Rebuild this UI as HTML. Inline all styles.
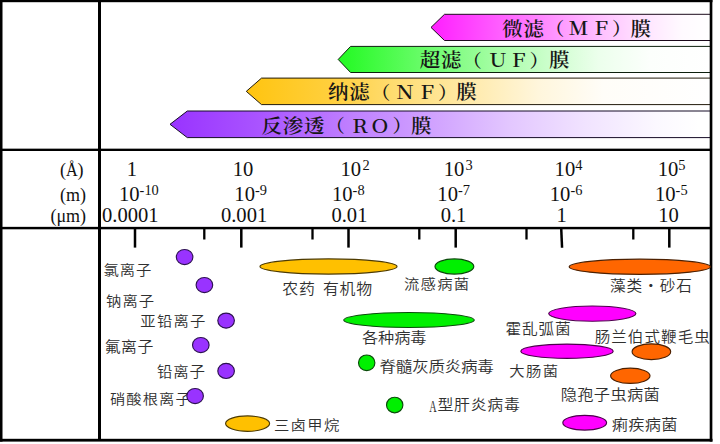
<!DOCTYPE html>
<html lang="zh-CN">
<head>
<meta charset="utf-8">
<title>膜分离过滤精度范围</title>
<style>
html,body{margin:0;padding:0;background:#fff;}
body{width:720px;height:444px;overflow:hidden;position:relative;}
svg{display:block;position:absolute;left:0;top:0;}
.mem{font-family:"Liberation Serif","Noto Serif CJK SC",serif;font-weight:600;font-size:19.5px;fill:#161616;}
.mem .l{font-size:18.4px;font-weight:600;}
.sc{font-family:"Liberation Serif","Noto Serif CJK SC",serif;font-size:20px;fill:#111;}
.sc .sup{font-size:14px;}
.lb{font-family:"Liberation Sans","Noto Sans CJK SC",sans-serif;font-size:15px;font-weight:350;fill:#303030;}
</style>
</head>
<body>
<svg width="720" height="444" viewBox="0 0 720 444">
<defs>
<linearGradient id="gMF" x1="431" x2="710" y1="0" y2="0" gradientUnits="userSpaceOnUse"><stop offset="0" stop-color="#ff1eff"/><stop offset="0.25" stop-color="#ff5fff"/><stop offset="0.45" stop-color="#ff96ff"/><stop offset="0.6" stop-color="#ffbeff"/><stop offset="0.75" stop-color="#ffe1ff"/><stop offset="0.9" stop-color="#fffaff"/><stop offset="1" stop-color="#ffffff"/></linearGradient>
<linearGradient id="gUF" x1="338" x2="710" y1="0" y2="0" gradientUnits="userSpaceOnUse"><stop offset="0" stop-color="#22fa22"/><stop offset="0.2" stop-color="#60fc60"/><stop offset="0.42" stop-color="#a4fda4"/><stop offset="0.56" stop-color="#cafeca"/><stop offset="0.7" stop-color="#ecffec"/><stop offset="0.84" stop-color="#fcfffc"/><stop offset="1" stop-color="#ffffff"/></linearGradient>
<linearGradient id="gNF" x1="246" x2="710" y1="0" y2="0" gradientUnits="userSpaceOnUse"><stop offset="0" stop-color="#ffc40f"/><stop offset="0.18" stop-color="#ffcf3c"/><stop offset="0.34" stop-color="#ffde78"/><stop offset="0.48" stop-color="#ffeaaa"/><stop offset="0.63" stop-color="#fff6dc"/><stop offset="0.77" stop-color="#fffdf8"/><stop offset="1" stop-color="#ffffff"/></linearGradient>
<linearGradient id="gRO" x1="170" x2="710" y1="0" y2="0" gradientUnits="userSpaceOnUse"><stop offset="0" stop-color="#9933ff"/><stop offset="0.16" stop-color="#a953ff"/><stop offset="0.35" stop-color="#c183ff"/><stop offset="0.49" stop-color="#d1a3ff"/><stop offset="0.63" stop-color="#e3c7ff"/><stop offset="0.77" stop-color="#f1e3ff"/><stop offset="0.9" stop-color="#fbf8ff"/><stop offset="0.98" stop-color="#ffffff"/><stop offset="1" stop-color="#ffffff"/></linearGradient>
</defs>
<rect x="0" y="0" width="720" height="444" fill="#fff"/>

<g stroke-width="1" stroke-linejoin="miter">
<polygon points="431,27.4 444.5,14.3 711,14.3 711,40.5 444.5,40.5" fill="url(#gMF)" stroke="#1c0a1c"/>
<polygon points="338.2,59.45 350.6,46.4 711,46.4 711,72.5 350.6,72.5" fill="url(#gUF)" stroke="#0c1f0c"/>
<polygon points="246.3,91.35 261.5,78.1 711,78.1 711,104.6 261.5,104.6" fill="url(#gNF)" stroke="#221a0a"/>
<polygon points="170,124.3 187.3,111 711,111 711,137.6 187.3,137.6" fill="url(#gRO)" stroke="#150a26"/>
</g>
<text class="mem" transform="scale(1.05,1)"><tspan x="478.38 498.57" y="35.7">微滤</tspan><tspan class="l" x="519.14" y="35.4">（</tspan><tspan class="l" text-anchor="middle" x="550.81" y="35.5">Ｍ</tspan><tspan class="l" text-anchor="middle" x="572.62" y="35.5">Ｆ</tspan><tspan class="l" x="582.95" y="35.4">）</tspan><tspan x="600.48" y="35.7">膜</tspan></text>
<text class="mem" transform="scale(1.05,1)"><tspan x="399.81 420" y="67.1">超滤</tspan><tspan class="l" x="440.57" y="66.8">（</tspan><tspan class="l" text-anchor="middle" x="474.24" y="66.9">Ｕ</tspan><tspan class="l" text-anchor="middle" x="494.05" y="66.9">Ｆ</tspan><tspan class="l" x="504.38" y="66.8">）</tspan><tspan x="522.76" y="67.1">膜</tspan></text>
<text class="mem" transform="scale(1.05,1)"><tspan x="312.48 332.67" y="99">纳滤</tspan><tspan class="l" x="353.24" y="98.7">（</tspan><tspan class="l" text-anchor="middle" x="385.71" y="98.8">Ｎ</tspan><tspan class="l" text-anchor="middle" x="406.71" y="98.8">Ｆ</tspan><tspan class="l" x="417.05" y="98.7">）</tspan><tspan x="434.57" y="99">膜</tspan></text>
<text class="mem" transform="scale(1.05,1)"><tspan x="249.05 269.24 289.43" y="132.8">反渗透</tspan><tspan class="l" x="310" y="132.5">（</tspan><tspan class="l" text-anchor="middle" x="342.86" y="132.6">Ｒ</tspan><tspan class="l" text-anchor="middle" x="361.9" y="132.6">Ｏ</tspan><tspan class="l" x="373.81" y="132.5">）</tspan><tspan x="391.33" y="132.8">膜</tspan></text>
<g fill="#000">
<rect x="0" y="0" width="712.5" height="2.2"/>
<rect x="0" y="0" width="2.5" height="441.6"/>
<rect x="709.7" y="0" width="2.65" height="441.6"/>
<rect x="0" y="438.8" width="712.5" height="2.8"/>
<rect x="98" y="0" width="3" height="440"/>
<rect x="0" y="148.65" width="712" height="2.35"/>
<rect x="0" y="226.85" width="712" height="2.45"/>
</g>
<g fill="#000">
<rect x="133.75" y="229" width="2.5" height="18.6"/>
<rect x="240.05" y="229" width="2.5" height="18.6"/>
<rect x="347.25" y="229" width="2.5" height="18.6"/>
<rect x="454.45" y="229" width="2.5" height="18.6"/>
<polygon points="560,229 562.5,229 563.3,247.8 560.8,247.8"/>
<rect x="668.05" y="229" width="2.5" height="18.6"/>
<rect x="203.15" y="229" width="2.3" height="10.5"/>
<rect x="311.35" y="229" width="2.3" height="10.5"/>
<rect x="418.15" y="229" width="2.3" height="10.5"/>
<rect x="525.35" y="229" width="2.3" height="10.5"/>
<rect x="632.15" y="229" width="2.3" height="10.5"/>
</g>
<g class="sc" style="font-size:18px">
<text y="175.6"><tspan x="60">(</tspan></text>
<text transform="translate(65.9,175.6) scale(0.9,1.1)">Å</text>
<text y="175.6"><tspan x="77.4">)</tspan></text>
<text x="86.1" y="200.6" text-anchor="end">(m)</text>
<text x="86.1" y="221.5" text-anchor="end">(μm)</text>
</g>
<g class="sc" transform="scale(1.03,1)">
<text x="123" y="176.3">1</text>
<text x="225.99" y="176.3">10</text>
<text x="330.63" y="176.3">10<tspan class="sup" dy="-5.9" dx="1.4">2</tspan></text>
<text x="430.82" y="176.3">10<tspan class="sup" dy="-5.9" dx="1.2">3</tspan></text>
<text x="538.45" y="176.3">10<tspan class="sup" dy="-5.9">4</tspan></text>
<text x="638.55" y="176.3">10<tspan class="sup" dy="-5.9">5</tspan></text>
<text x="115.56" y="200.6">10<tspan class="sup" dy="-5.9">-10</tspan></text>
<text x="227.54" y="200.6">10<tspan class="sup" dy="-5.9">-9</tspan></text>
<text x="322.32" y="200.6">10<tspan class="sup" dy="-5.9">-8</tspan></text>
<text x="424.64" y="200.6">10<tspan class="sup" dy="-5.9">-7</tspan></text>
<text x="533.82" y="200.6">10<tspan class="sup" dy="-5.9">-6</tspan></text>
<text x="635.94" y="200.6">10<tspan class="sup" dy="-5.9">-5</tspan></text>
<text x="99.03" y="221.6">0.0001</text>
<text x="214.49" y="221.6">0.001</text>
<text x="321.74" y="221.6">0.01</text>
<text x="427.83" y="221.6">0.1</text>
<text x="540.29" y="221.6">1</text>
<text x="639.13" y="221.6">10</text>
</g>
<g stroke-width="1.15">
<ellipse cx="184.6" cy="257" rx="8.3" ry="7.55" fill="#9933ff" stroke="#2c1150"/>
<ellipse cx="204.4" cy="285" rx="8.3" ry="7.55" fill="#9933ff" stroke="#2c1150"/>
<ellipse cx="226.1" cy="320.6" rx="8.3" ry="7.55" fill="#9933ff" stroke="#2c1150"/>
<ellipse cx="200.8" cy="345" rx="8.3" ry="7.55" fill="#9933ff" stroke="#2c1150"/>
<ellipse cx="226.1" cy="370.9" rx="8.3" ry="7.55" fill="#9933ff" stroke="#2c1150"/>
<ellipse cx="328.5" cy="266.5" rx="68.5" ry="7.6" fill="#ffc000" stroke="#4d3a00"/>
<ellipse cx="247.6" cy="423.6" rx="22" ry="7.7" fill="#ffc000" stroke="#4d3a00"/>
<ellipse cx="454.4" cy="266.5" rx="19.4" ry="7.6" fill="#00f000" stroke="#0a4a0a"/>
<ellipse cx="409" cy="320" rx="65.2" ry="7.5" fill="#00f000" stroke="#0a4a0a"/>
<ellipse cx="366.7" cy="362.8" rx="8.2" ry="7.8" fill="#00f000" stroke="#0a4a0a"/>
<ellipse cx="394.7" cy="405" rx="8.2" ry="7.8" fill="#00f000" stroke="#0a4a0a"/>
<ellipse cx="639.8" cy="266.8" rx="70.6" ry="7.6" fill="#ff6600" stroke="#4d2000"/>
<ellipse cx="651.4" cy="351.7" rx="19.3" ry="7.9" fill="#ff6600" stroke="#4d2000"/>
<ellipse cx="630.3" cy="375.8" rx="19.7" ry="7.6" fill="#ff6600" stroke="#4d2000"/>
<ellipse cx="592.3" cy="313.6" rx="43.6" ry="7.6" fill="#ff00ff" stroke="#4d004d"/>
<ellipse cx="567" cy="351.2" rx="46.2" ry="7.1" fill="#ff00ff" stroke="#4d004d"/>
<ellipse cx="584.7" cy="422.7" rx="21.9" ry="7.4" fill="#ff00ff" stroke="#4d004d"/>
</g>
<g class="lb">
<text transform="translate(103.58,275) scale(1.08,1)" font-size="14.2" letter-spacing="0.78">氯离子</text>
<text transform="translate(105.99,306.15) scale(1.08,1)" font-size="14.2" letter-spacing="1.01">钠离子</text>
<text transform="translate(140.33,326) scale(1.08,1)" font-size="14.2" letter-spacing="1.17">亚铅离子</text>
<text transform="translate(104.65,351.59) scale(1.08,1)" font-size="14.7" letter-spacing="0.56">氟离子</text>
<text transform="translate(157.04,377.23) scale(1.08,1)" font-size="14.3" letter-spacing="0.74">铅离子</text>
<text transform="translate(109.99,403.8) scale(1.08,1)" font-size="14.2" letter-spacing="0.97">硝酸根离子</text>
<text transform="translate(273.93,430.15) scale(1.08,1)" font-size="14.2" letter-spacing="1.26">三卤甲烷</text>
<text transform="translate(282.16,293.96) scale(1.08,1)" font-size="14.7" letter-spacing="0.87">农药</text>
<text transform="translate(322.96,293.89) scale(1.08,1)" font-size="14.7" letter-spacing="0.74">有机物</text>
<text transform="translate(404.03,288.97) scale(1.08,1)" font-size="14.2" letter-spacing="1.16">流感病菌</text>
<text transform="translate(362.01,342.85) scale(1.08,1)" font-size="15" letter-spacing="-0.08">各种病毒</text>
<text transform="translate(379.54,372.29) scale(1.08,1)" font-size="15.3" letter-spacing="-0.19">脊髓灰质炎病毒</text>
<text transform="translate(437.51,409.86) scale(1.08,1)" font-size="14.7" letter-spacing="0.68">型肝炎病毒</text>
<text transform="translate(609.92,291.11) scale(1.08,1)" font-size="14.5" letter-spacing="0.88">藻类・砂石</text>
<text transform="translate(505.42,334.48) scale(1.08,1)" font-size="14.5" letter-spacing="0.8">霍乱弧菌</text>
<text transform="translate(594.63,341.65) scale(1.08,1)" font-size="14.4" letter-spacing="1">肠兰伯式鞭毛虫</text>
<text transform="translate(509.23,376.05) scale(1.08,1)" font-size="14.2" letter-spacing="1.29">大肠菌</text>
<text transform="translate(560.8,400.45) scale(1.08,1)" font-size="15" letter-spacing="0.31">隐孢子虫病菌</text>
<text transform="translate(611.71,430.02) scale(1.08,1)" font-size="15" letter-spacing="0.26">痢疾病菌</text>
<text transform="translate(429.3,411.6) scale(0.58,1)" style="font-family:'Liberation Serif',serif" font-size="17.6">A</text>
</g>
<g stroke-width="1.15"><ellipse cx="195.1" cy="396" rx="8.3" ry="7.55" fill="#9933ff" stroke="#2c1150"/></g>
</svg>
</body>
</html>
